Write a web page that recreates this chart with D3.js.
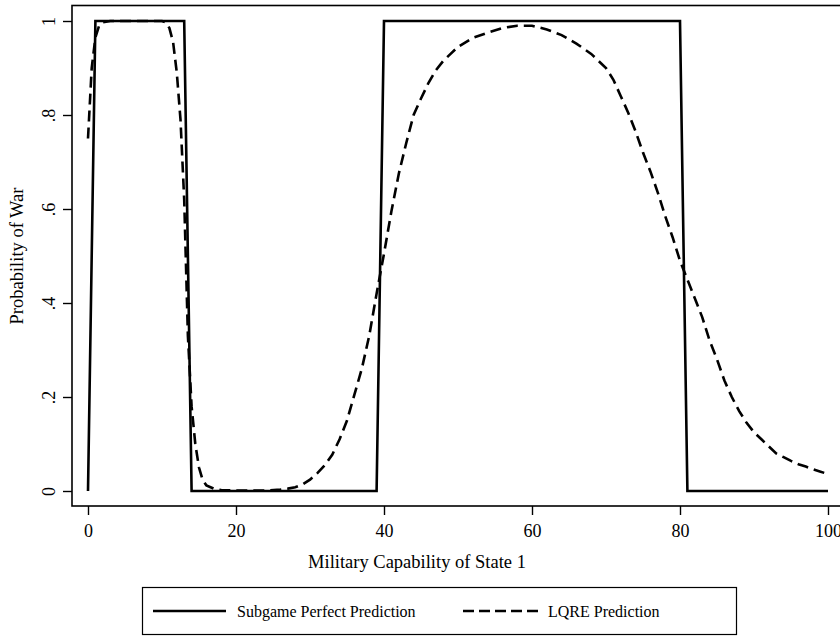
<!DOCTYPE html>
<html>
<head>
<meta charset="utf-8">
<script src="https://cdn.jsdelivr.net/npm/d3@7/dist/d3.min.js"></script>
<style>
  body { margin: 0; background: #fff; }
  svg text { font-family: "Liberation Serif", "Times New Roman", serif; fill: #000; }
</style>
</head>
<body>
<div class="chart"></div>
<script>
var width = 840;
var height = 637;

// subgame perfect prediction (step function)
var spX = [0, 1, 13, 14, 39, 40, 80, 81, 100];
var spY = [0, 1, 1, 0, 0, 1, 1, 0, 0];

// LQRE prediction
var lqreX = [0, 0.5, 1, 1.5, 2, 3, 4, 6, 8, 10, 10.5, 11, 11.5, 12, 12.5, 13, 13.5, 14, 14.5, 15, 15.5, 16, 17, 18, 20, 22, 24, 26, 27, 28, 29, 30,
             31, 32, 33, 34, 35, 36, 37, 38, 39, 40, 41, 42, 43, 44, 45, 46, 47, 48, 49, 50, 52, 54, 56, 58, 60, 62, 64, 66, 68, 70,
             71, 72, 73, 74, 75, 76, 77, 78, 79, 80, 81, 82, 83, 84, 85, 86, 87, 88, 89, 90, 91, 92, 93, 94, 95, 96, 97, 98, 99, 100];
var lqreY = [0.75, 0.90, 0.965, 0.99, 0.997, 1, 1, 1, 1, 1, 0.997, 0.985, 0.955, 0.89, 0.79, 0.62, 0.33, 0.18, 0.10, 0.05, 0.023, 0.012, 0.005, 0.002, 0.001, 0.001, 0.001, 0.003, 0.005, 0.008, 0.014, 0.024,
             0.038, 0.055, 0.077, 0.11, 0.15, 0.205, 0.26, 0.33, 0.42, 0.505, 0.595, 0.675, 0.74, 0.80, 0.835, 0.868, 0.895, 0.915, 0.93, 0.945, 0.964, 0.975, 0.985, 0.99, 0.99, 0.982, 0.97, 0.952, 0.93, 0.90,
             0.875, 0.84, 0.805, 0.765, 0.72, 0.68, 0.635, 0.585, 0.54, 0.49, 0.45, 0.41, 0.37, 0.32, 0.28, 0.235, 0.20, 0.17, 0.145, 0.125, 0.11, 0.095, 0.08, 0.072, 0.064, 0.057, 0.052, 0.046, 0.041, 0.036];

var xTicks = [0, 20, 40, 60, 80, 100];
var yTicks = [0, 0.2, 0.4, 0.6, 0.8, 1];
var yTickLabels = ["0", ".2", ".4", ".6", ".8", "1"];
var legendLabels = ["Subgame Perfect Prediction", "LQRE Prediction"];

var svg = d3.select(".chart")
    .append("svg")
    .attr("width", width)
    .attr("height", height);

var xScale = d3.scaleLinear().domain([0, 100]).range([88, 828]);
var yScale = d3.scaleLinear().domain([0, 1]).range([491, 21]);

// plot frame
svg.append("rect")
    .attr("x", 72)
    .attr("y", 5.5)
    .attr("width", 790)
    .attr("height", 500.5)
    .attr("fill", "none")
    .attr("stroke", "#000")
    .attr("stroke-width", 1.6);

var xAxis = d3.axisBottom(xScale).tickValues(xTicks).tickSize(9).tickFormat(d3.format("d"));
var yAxis = d3.axisLeft(yScale).tickValues(yTicks).tickSize(9)
    .tickFormat(function(d, i) { return yTickLabels[i]; });

var gx = svg.append("g")
    .attr("transform", "translate(0,506)")
    .call(xAxis);
gx.select(".domain").remove();
gx.selectAll("line").attr("stroke", "#000").attr("stroke-width", 1.4);
gx.selectAll("text")
    .attr("y", 31)
    .attr("dy", 0)
    .style("font-size", "18px")
    .attr("font-family", null);

var gy = svg.append("g")
    .attr("transform", "translate(72,0)")
    .call(yAxis);
gy.select(".domain").remove();
gy.selectAll("line").attr("stroke", "#000").attr("stroke-width", 1.4);
gy.selectAll("text")
    .attr("x", 0)
    .attr("dy", 0)
    .attr("text-anchor", "middle")
    .attr("transform", "translate(-17,0) rotate(-90)")
    .style("font-size", "18px")
    .attr("font-family", null);

// axis titles
svg.append("text")
    .attr("x", 417)
    .attr("y", 568)
    .attr("text-anchor", "middle")
    .style("font-size", "18.5px")
    .text("Military Capability of State 1");

svg.append("text")
    .attr("transform", "translate(23,256) rotate(-90)")
    .attr("text-anchor", "middle")
    .style("font-size", "18.5px")
    .text("Probability of War");

// series
var spData = spX.map(function(d, i) { return [d, spY[i]]; });
var lqreData = lqreX.map(function(d, i) { return [d, lqreY[i]]; });

var line = d3.line()
    .x(function(d) { return xScale(d[0]); })
    .y(function(d) { return yScale(d[1]); });

svg.append("path")
    .datum(lqreData)
    .attr("d", line)
    .attr("fill", "none")
    .attr("stroke", "#000")
    .attr("stroke-width", 2.6)
    .attr("stroke-dasharray", "11,6");

svg.append("path")
    .datum(spData)
    .attr("d", line)
    .attr("fill", "none")
    .attr("stroke", "#000")
    .attr("stroke-width", 2.6)
    .attr("stroke-linejoin", "miter");

// legend
var legend = svg.append("g");
legend.append("rect")
    .attr("x", 142.5)
    .attr("y", 587.5)
    .attr("width", 594)
    .attr("height", 47)
    .attr("fill", "none")
    .attr("stroke", "#000")
    .attr("stroke-width", 1.2);

legend.append("line")
    .attr("x1", 153).attr("x2", 226)
    .attr("y1", 611).attr("y2", 611)
    .attr("stroke", "#000").attr("stroke-width", 2.6);
legend.append("text")
    .attr("x", 237).attr("y", 617)
    .style("font-size", "16px")
    .text(legendLabels[0]);

legend.append("line")
    .attr("x1", 463).attr("x2", 538)
    .attr("y1", 611).attr("y2", 611)
    .attr("stroke", "#000").attr("stroke-width", 2.6)
    .attr("stroke-dasharray", "11,5");
legend.append("text")
    .attr("x", 548).attr("y", 617)
    .style("font-size", "16px")
    .text(legendLabels[1]);
</script>
</body>
</html>
